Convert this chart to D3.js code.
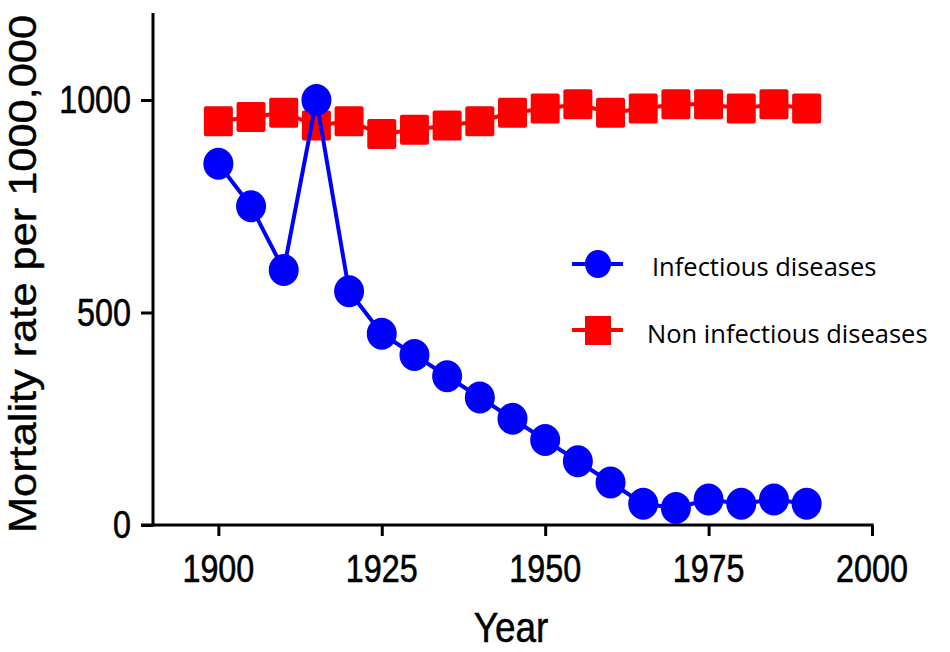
<!DOCTYPE html>
<html><head><meta charset="utf-8">
<script src="https://cdn.jsdelivr.net/npm/d3@7"></script>
<style>body{margin:0;background:#fff}svg{display:block}</style>
</head><body><svg id="c" width="950" height="652"></svg>
<script>
const years = [1900,1905,1910,1915,1920,1925,1930,1935,1940,1945,1950,1955,1960,1965,1970,1975,1980,1985,1990];
const infectious = [850,750,600,1000,550,450,400,350,300,250,200,150,100,50,40,60,50,60,50];
const nonInfectious = [950,960,970,940,950,920,930,940,950,970,980,990,970,980,990,990,980,990,980];
const xTicks = [1900,1925,1950,1975,2000];
const yTicks = [0,500,1000];
const seriesNames = ["Infectious diseases","Non infectious diseases"];

const svg = d3.select("#c");
const x = d3.scaleLinear().domain([1890,2000]).range([153,872]);
const y = d3.scaleLinear().domain([0,1200]).range([525,15]);
const tickFont = "'Liberation Sans', Arial, sans-serif";

// axes (ticks via d3 axis, labels condensed)
const xa = svg.append("g").attr("transform","translate(0,525)")
  .call(d3.axisBottom(x).tickValues(xTicks).tickSize(11).tickFormat(""));
xa.select(".domain").remove();
xa.selectAll("line").attr("stroke","#000").attr("stroke-width",3);
svg.append("line").attr("x1",141).attr("x2",x(2000)+1.5).attr("y1",525).attr("y2",525).attr("stroke","#000").attr("stroke-width",3);
svg.append("g").selectAll("text").data(xTicks).join("text")
  .attr("transform",d=>`translate(${x(d)},582) scale(0.85,1)`)
  .attr("text-anchor","middle").attr("font-family",tickFont).attr("font-size",38)
  .attr("fill","#000").attr("stroke","#000").attr("stroke-width",0.6).text(d=>d3.format("d")(d));

const ya = svg.append("g").attr("transform","translate(153,0)")
  .call(d3.axisLeft(y).tickValues(yTicks).tickSize(12).tickFormat(""));
ya.select(".domain").remove();
ya.selectAll("line").attr("stroke","#000").attr("stroke-width",3);
svg.append("line").attr("x1",153).attr("x2",153).attr("y1",13).attr("y2",526.5).attr("stroke","#000").attr("stroke-width",3);
svg.append("g").selectAll("text").data(yTicks).join("text")
  .attr("transform",d=>`translate(131,${y(d)+13}) scale(0.85,1)`)
  .attr("text-anchor","end").attr("font-family",tickFont).attr("font-size",38)
  .attr("fill","#000").attr("stroke","#000").attr("stroke-width",0.6).text(d=>d3.format("d")(d));

// axis titles
svg.append("text").attr("transform","translate(511,642) scale(0.88,1)").attr("text-anchor","middle")
  .attr("font-family",tickFont).attr("font-size",42).attr("fill","#000").attr("stroke","#000").attr("stroke-width",0.5).text("Year");
svg.append("text").attr("transform","translate(36,274) rotate(-90)").attr("text-anchor","middle")
  .attr("font-family",tickFont).attr("font-size",38).attr("fill","#000").attr("stroke","#000").attr("stroke-width",0.4)
  .attr("textLength",518).attr("lengthAdjust","spacingAndGlyphs").text("Mortality rate per 1000,000");

// series
const line = d3.line().x(d=>x(d[0])).y(d=>y(d[1]));
const redData = years.map((yr,i)=>[yr,nonInfectious[i]]);
const blueData = years.map((yr,i)=>[yr,infectious[i]]);

svg.append("path").datum(redData).attr("d",line).attr("fill","none").attr("stroke","#ff0000").attr("stroke-width",4);
svg.append("g").selectAll("rect").data(redData).join("rect")
  .attr("x",d=>x(d[0])-14.5).attr("y",d=>y(d[1])-15).attr("width",29).attr("height",30).attr("rx",2)
  .attr("fill","#ff0000");

svg.append("path").datum(blueData).attr("d",line).attr("fill","none").attr("stroke","#0000ff").attr("stroke-width",4);
svg.append("g").selectAll("ellipse").data(blueData).join("ellipse")
  .attr("cx",d=>x(d[0])).attr("cy",d=>y(d[1])).attr("rx",15).attr("ry",16)
  .attr("fill","#0000ff");

// legend
const legFont = "'Open Sans', 'Noto Sans', sans-serif";
const lg = svg.append("g");
lg.append("line").attr("x1",572).attr("x2",623).attr("y1",264).attr("y2",264).attr("stroke","#0000ff").attr("stroke-width",4);
lg.append("ellipse").attr("cx",598).attr("cy",264).attr("rx",13).attr("ry",14).attr("fill","#0000ff");
lg.append("text").attr("x",652).attr("y",276).attr("font-family",legFont).attr("font-size",25.5).attr("fill","#000").text(seriesNames[0]);
lg.append("line").attr("x1",572).attr("x2",623).attr("y1",330).attr("y2",330).attr("stroke","#ff0000").attr("stroke-width",4);
lg.append("rect").attr("x",585).attr("y",316).attr("width",26).attr("height",29).attr("fill","#ff0000");
lg.append("text").attr("x",647).attr("y",343).attr("font-family",legFont).attr("font-size",25.5).attr("fill","#000").text(seriesNames[1]);
</script></body></html>
